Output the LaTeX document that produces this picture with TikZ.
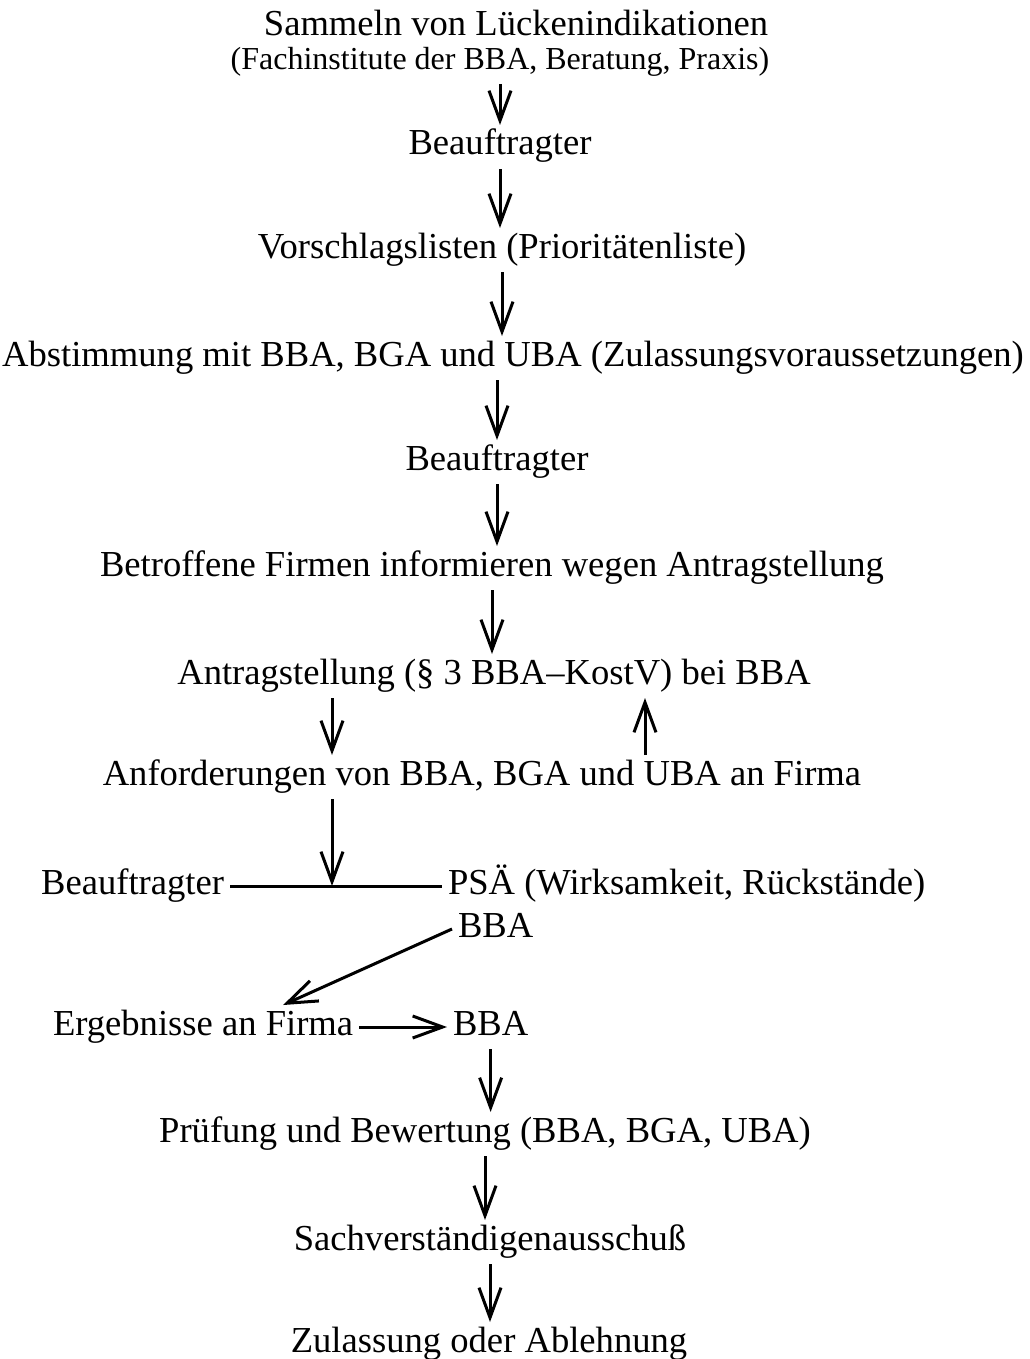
\documentclass[tikz,border=0pt]{standalone}
\usepackage{fontspec}
\setmainfont{Liberation Serif}
\usetikzlibrary{arrows.meta}
\tikzset{
  txt/.style={inner sep=0pt, outer sep=3pt, text height=12pt, text depth=4pt,
    font=\fontsize{18.3}{21}\selectfont, anchor=base},
  pfeil/.style={line width=1.5pt, -{Straight Barb[length=15pt,width=11pt]}},
}
\begin{document}
\begin{tikzpicture}[x=0.5pt,y=-0.5pt]
    \useasboundingbox (0,0) rectangle (1029,1359);

    \node[txt] (sam) at (516,36) {Sammeln von Lückenindikationen};
    \node[txt, font=\fontsize{16}{18}\selectfont] (fach) at (500,70) {(Fachinstitute der BBA, Beratung, Praxis)};
    \node[txt] (bea1) at (500,155) {Beauftragter};
    \node[txt] (vor) at (502,258) {Vorschlagslisten (Prioritätenliste)};
    \node[txt] (abs) at (513,366) {Abstimmung mit BBA, BGA und UBA (Zulassungsvoraussetzungen)};
    \node[txt] (bea2) at (497,470) {Beauftragter};
    \node[txt] (bet) at (492,576) {Betroffene Firmen informieren wegen Antragstellung};
    \node[txt] (ant) at (494,684) {Antragstellung (§ 3 BBA–KostV) bei BBA};
    \node[txt] (anf) at (482,785) {Anforderungen von BBA, BGA und UBA an Firma};
    \node[txt, anchor=base east] (bea3) at (230,894) {Beauftragter};
    \node[txt, anchor=base west] (psa) at (442,894) {PSÄ (Wirksamkeit, Rückstände)};
    \node[txt, anchor=base west] (bba1) at (452,937) {BBA};
    \node[txt, anchor=base west] (erg) at (47,1035) {Ergebnisse an Firma};
    \node[txt, anchor=base west] (bba2) at (447,1035) {BBA};
    \node[txt] (pru) at (485,1142) {Prüfung und Bewertung (BBA, BGA, UBA)};
    \node[txt] (sach) at (490,1250) {Sachverständigenausschuß};
    \node[txt] (zul) at (489,1352) {Zulassung oder Ablehnung};

    % Hauptstrang
    \foreach \a/\b in {fach/bea1, bea1/vor, vor/abs, bea2/bet, bet/ant, bba2/pru, pru/sach, sach/zul}
    {
        \draw[pfeil] (\a.south) -- (\a.south |- \b.north);
    }
    \draw[pfeil] (abs.south -| bea2.north) -- (bea2.north);

    % Seitenpfeile
    \coordinate (xl) at (332,0);
    \coordinate (xr) at (645,0);
    \draw[pfeil] (ant.south -| xl) -- (anf.north -| xl);
    \draw[pfeil] (anf.north -| xr) -- (ant.south -| xr);

    \draw[line width=1.5pt] (bea3.east) -- (psa.west);
    \coordinate (treff) at (bea3.east -| xl);
    \draw[pfeil] (anf.south -| xl) -- (treff);

    \draw[pfeil] (bba1.west) -- ([xshift=40pt]erg.north);
    \draw[pfeil] (erg.east) -- (bba2.west);
\end{tikzpicture}
\end{document}
